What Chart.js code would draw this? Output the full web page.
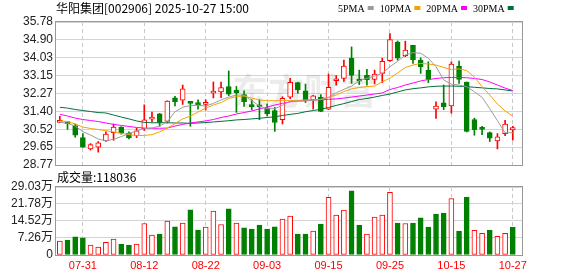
<!DOCTYPE html>
<html>
<head>
<meta charset="utf-8">
<script src="https://cdn.jsdelivr.net/npm/chart.js@4.4.1/dist/chart.umd.min.js"></script>
<style>
  html, body { margin: 0; padding: 0; background: #fff; }
  #wrap { position: relative; width: 578px; height: 276px; }
  #wrap canvas { position: absolute; left: 0; }
</style>
</head>
<body>
<div id="wrap">
  <canvas id="kline" width="578" height="176" style="top:0"></canvas>
  <canvas id="vol" width="578" height="111" style="top:165px"></canvas>
</div>
<script>
// trading days shown
const dates = ['07-28','07-29','07-30','07-31','08-01','08-04','08-05','08-06','08-07','08-08',
  '08-11','08-12','08-13','08-14','08-15','08-18','08-19','08-20','08-21','08-22',
  '08-25','08-26','08-27','08-28','08-29','09-01','09-02','09-03','09-04','09-05',
  '09-08','09-09','09-10','09-11','09-12','09-15','09-16','09-17','09-18','09-19',
  '09-22','09-23','09-24','09-25','09-26','09-29','09-30','10-09','10-10','10-13',
  '10-14','10-15','10-16','10-17','10-20','10-21','10-22','10-23','10-24','10-27'];
const shownDates = ['07-31','08-12','08-22','09-03','09-15','09-25','10-15','10-27'];

const opens = [30.86,30.82,30.70,30.11,29.56,29.64,29.95,30.36,30.63,30.34,
  30.21,30.55,31.02,31.28,30.91,32.06,31.95,31.82,31.80,31.74,
  32.29,32.35,32.62,32.43,32.22,31.65,31.63,31.57,31.44,30.99,
  32.09,32.81,32.40,31.96,32.09,31.51,32.90,33.02,34.01,32.97,
  33.16,32.97,33.26,33.88,34.79,34.13,34.64,33.91,33.42,31.51,
  31.82,31.67,33.62,32.84,31.00,30.55,30.36,29.95,30.31,30.49];
const highs = [31.15,30.84,30.78,30.31,29.82,29.92,30.39,30.78,30.65,30.39,
  30.57,31.72,31.36,31.30,31.92,32.14,32.69,31.85,31.97,31.97,
  32.84,32.84,33.38,32.62,32.40,31.97,31.97,31.77,31.59,32.12,
  33.02,32.83,32.74,32.18,32.22,33.23,33.16,33.91,34.56,33.42,
  33.46,33.42,34.01,35.21,34.85,34.84,34.64,34.02,33.83,31.87,
  32.69,33.83,33.86,32.84,31.07,30.67,30.39,30.31,30.96,30.67];
const lows = [30.84,30.52,30.13,29.63,29.50,29.40,29.92,29.98,30.28,30.05,
  30.11,30.46,30.88,30.67,30.83,31.67,31.74,30.67,31.51,31.46,
  32.06,32.07,32.17,31.35,31.64,31.48,30.99,31.18,30.42,30.78,
  32.02,32.29,31.83,31.51,31.38,31.48,32.68,32.87,32.77,32.71,
  32.68,32.74,32.81,33.85,33.91,34.08,33.75,33.26,32.81,31.05,
  31.48,31.31,32.77,30.39,30.23,30.26,29.92,29.56,30.21,29.99];
const closes = [30.90,30.80,30.23,29.64,29.77,29.86,30.29,30.63,30.34,30.10,
  30.44,30.99,31.12,30.86,31.90,31.88,32.50,31.79,31.73,31.77,
  32.35,32.56,32.24,32.30,31.88,31.63,31.62,31.28,30.86,32.04,
  32.82,32.45,31.93,32.16,31.40,32.58,32.97,33.62,33.16,32.88,
  32.94,33.23,33.85,34.92,34.01,34.40,33.93,33.59,32.97,31.66,
  31.63,33.72,32.97,30.42,30.50,30.52,30.08,30.15,30.78,30.60];

const ma5 = [30.86,30.81,30.68,30.40,30.24,30.04,29.95,30.03,30.16,30.32,
  30.44,30.55,30.58,30.68,30.89,31.38,31.60,31.68,31.70,31.66,
  31.79,31.96,32.10,32.20,32.19,31.92,31.66,31.53,31.53,31.70,
  31.90,31.89,31.91,31.94,31.99,32.09,32.31,32.48,32.64,32.90,
  33.02,33.13,33.27,33.59,33.85,34.16,34.28,34.25,34.00,33.59,
  32.94,32.73,32.69,32.61,32.36,32.09,31.53,30.94,30.35,30.35];
const ma10 = [30.93,30.90,30.78,30.63,30.56,30.51,30.45,30.39,30.32,30.26,
  30.21,30.22,30.26,30.39,30.58,30.80,31.03,31.17,31.37,31.56,
  31.71,31.83,32.03,32.13,32.15,32.05,31.96,31.92,31.92,31.92,
  31.93,31.94,31.96,31.96,31.98,32.08,32.20,32.37,32.50,32.57,
  32.61,32.64,32.85,33.03,33.28,33.55,33.67,33.75,33.72,33.67,
  33.55,33.45,33.48,33.40,33.08,32.61,32.20,31.76,31.42,31.17];
const ma20 = [31.26,31.17,31.07,31.00,30.95,30.90,30.83,30.76,30.71,30.66,
  30.61,30.58,30.57,30.57,30.58,30.68,30.76,30.83,30.88,30.93,
  31.00,31.10,31.17,31.27,31.34,31.42,31.52,31.61,31.71,31.79,
  31.86,31.91,31.93,31.96,31.97,31.99,32.01,32.05,32.10,32.15,
  32.20,32.25,32.30,32.47,32.57,32.69,32.79,32.89,32.96,33.01,
  33.05,33.06,33.06,33.05,33.01,32.96,32.84,32.69,32.54,32.42];
const ma30 = [31.60,31.56,31.49,31.44,31.39,31.34,31.32,31.22,31.12,31.03,
  30.93,30.86,30.84,30.84,30.84,30.83,30.83,30.81,30.83,30.85,
  30.88,30.91,30.94,30.98,31.00,31.03,31.06,31.10,31.13,31.20,
  31.25,31.30,31.38,31.44,31.50,31.59,31.69,31.78,31.88,31.98,
  32.03,32.10,32.18,32.25,32.35,32.45,32.51,32.55,32.60,32.63,
  32.64,32.64,32.63,32.61,32.58,32.55,32.52,32.50,32.45,32.40];

// volume in lots (手)
const volumes = [59500,63800,77900,73700,42500,34000,53800,68000,46800,42500,
  46800,134600,85000,89300,144500,120400,136000,192700,106300,119000,
  187000,130400,197000,136000,116200,110500,127500,110500,120400,153000,
  165800,89300,89300,102000,131800,246600,170000,191300,273500,127500,
  89300,161500,170000,267800,136000,134600,136000,158700,119000,174300,
  178500,240900,102000,246600,104900,92100,104900,79400,92100,118036];

const priceTicks = [28.77, 29.65, 30.52, 31.40, 32.27, 33.15, 34.03, 34.90, 35.78];
const volTicks = [0, 7.26, 14.52, 21.78, 29.03]; // 万

const maNames = ['5PMA', '10PMA', '20PMA', '30PMA'];
const maColors = ['#9c9c9c', '#f5a200', '#ff00ff', '#00703a'];

const RED = '#ff0000';
const GREEN = '#008000';
const LABEL = '#222';

Chart.defaults.font.family = "'Liberation Sans', 'Noto Sans CJK SC', sans-serif";

const candleUp = i => closes[i] >= opens[i];
const volUp = i => i === 0 ? candleUp(0) : closes[i] >= closes[i - 1];
const xy = arr => arr.map((v, i) => ({ x: i, y: v }));

function dateAxis(extra) {
  return Object.assign({
    type: 'linear',
    min: -0.5,
    max: 60.2,
    offset: false,
    afterBuildTicks: s => { s.ticks = shownDates.map(d => ({ value: dates.indexOf(d) })); },
    grid: { offset: false, drawTicks: false, color: '#c8c8c8' },
    border: { display: false, dash: [4, 3] }
  }, extra);
}

// grey frame round the plot area
const frame = {
  id: 'frame',
  afterDraw(chart) {
    const { ctx, chartArea: a } = chart;
    ctx.save();
    ctx.strokeStyle = '#999';
    ctx.lineWidth = 1;
    ctx.strokeRect(a.left - 0.5, a.top - 0.5, a.right - a.left + 1, a.bottom - a.top + 1);
    ctx.restore();
  }
};

const header = {
  id: 'header',
  beforeDatasetsDraw(chart) {
    const ctx = chart.ctx;
    ctx.save();
    ctx.fillStyle = 'rgba(0,0,0,0.075)';
    ctx.font = "bold 36px 'Noto Sans CJK SC'";
    ctx.textBaseline = 'middle';
    ctx.fillText('东方财富', 232, 91);
    ctx.restore();
  },
  afterDraw(chart) {
    const ctx = chart.ctx;
    ctx.save();
    ctx.textBaseline = 'middle';
    ctx.fillStyle = '#000';
    ctx.font = "12px 'Noto Sans CJK SC'";
    ctx.fillText('华阳集团[002906] 2025-10-27 15:00', 56, 8);
    ctx.font = "10px 'Liberation Serif'";
    let x = 338;
    maNames.forEach((n, k) => {
      ctx.fillStyle = '#000';
      ctx.fillText(n, x, 9);
      x += ctx.measureText(n).width + 3;
      ctx.fillStyle = maColors[k];
      ctx.fillRect(x, 6, 6, 4);
      x += 6 + 6;
    });
    ctx.restore();
  }
};

const volTitle = {
  id: 'volTitle',
  afterDraw(chart) {
    const ctx = chart.ctx;
    ctx.save();
    ctx.textBaseline = 'middle';
    ctx.fillStyle = '#000';
    ctx.font = "12px 'Noto Sans CJK SC'";
    ctx.fillText('成交量:' + volumes[volumes.length - 1], 57, 12);
    ctx.restore();
  }
};

const lineSets = [ma5, ma10, ma20, ma30].map((arr, k) => ({
  type: 'line',
  label: maNames[k],
  data: xy(arr),
  borderColor: maColors[k],
  borderWidth: 1,
  pointRadius: 0,
  tension: 0,
  fill: false,
  order: 0
}));

new Chart(document.getElementById('kline'), {
  type: 'bar',
  data: {
    datasets: lineSets.concat([
      {
        label: 'body',
        data: opens.map((o, i) => ({ x: i, y: [Math.min(o, closes[i]), Math.max(o, closes[i])] })),
        grouped: false,
        barThickness: 5,
        minBarLength: 2,
        borderWidth: 1,
        borderSkipped: false,
        backgroundColor: c => candleUp(c.dataIndex) ? '#fff' : GREEN,
        borderColor: c => candleUp(c.dataIndex) ? RED : GREEN,
        order: 1
      },
      {
        label: 'wick',
        data: lows.map((l, i) => ({ x: i, y: [l, highs[i]] })),
        grouped: false,
        barThickness: 1,
        backgroundColor: c => candleUp(c.dataIndex) ? RED : GREEN,
        order: 2
      }
    ])
  },
  options: {
    responsive: false,
    animation: false,
    devicePixelRatio: 1,
    layout: { padding: { top: 22, right: 56, bottom: 11, left: 0 } },
    plugins: { legend: { display: false }, tooltip: { enabled: false } },
    scales: {
      x: dateAxis({ ticks: { display: false }, afterFit: s => { s.height = 0; } }),
      y: {
        min: 28.77,
        max: 35.78,
        afterBuildTicks: s => { s.ticks = priceTicks.map(v => ({ value: v })); },
        ticks: { autoSkip: false, padding: 3, color: LABEL, font: { size: 12 }, callback: v => v.toFixed(2) },
        grid: { color: '#d4d4d4', drawTicks: false },
        border: { display: false },
        afterFit: s => { s.width = 56; }
      }
    }
  },
  plugins: [header, frame]
});

new Chart(document.getElementById('vol'), {
  type: 'bar',
  data: {
    datasets: [{
      label: '成交量',
      data: xy(volumes),
      barThickness: 5,
      borderWidth: 1,
      borderSkipped: false,
      backgroundColor: c => volUp(c.dataIndex) ? '#fff' : GREEN,
      borderColor: c => volUp(c.dataIndex) ? RED : GREEN
    }]
  },
  options: {
    responsive: false,
    animation: false,
    devicePixelRatio: 1,
    layout: { padding: { top: 22, right: 56, bottom: 0, left: 0 } },
    plugins: { legend: { display: false }, tooltip: { enabled: false } },
    scales: {
      x: dateAxis({
        ticks: { autoSkip: false, maxRotation: 0, minRotation: 0, padding: 4, color: RED, font: { size: 11 },
          callback: v => dates[v] },
        afterFit: s => { s.height = 21; }
      }),
      y: {
        min: 0,
        max: 290300,
        afterBuildTicks: s => { s.ticks = volTicks.map(v => ({ value: v * 10000 })); },
        ticks: { autoSkip: false, padding: 3, color: LABEL, font: { size: 12 },
          callback: v => v === 0 ? '0' : (v / 10000).toFixed(2) + '万' },
        grid: { color: '#d4d4d4', drawTicks: false },
        border: { display: false },
        afterFit: s => { s.width = 56; }
      }
    }
  },
  plugins: [frame, volTitle]
});
</script>
</body>
</html>
